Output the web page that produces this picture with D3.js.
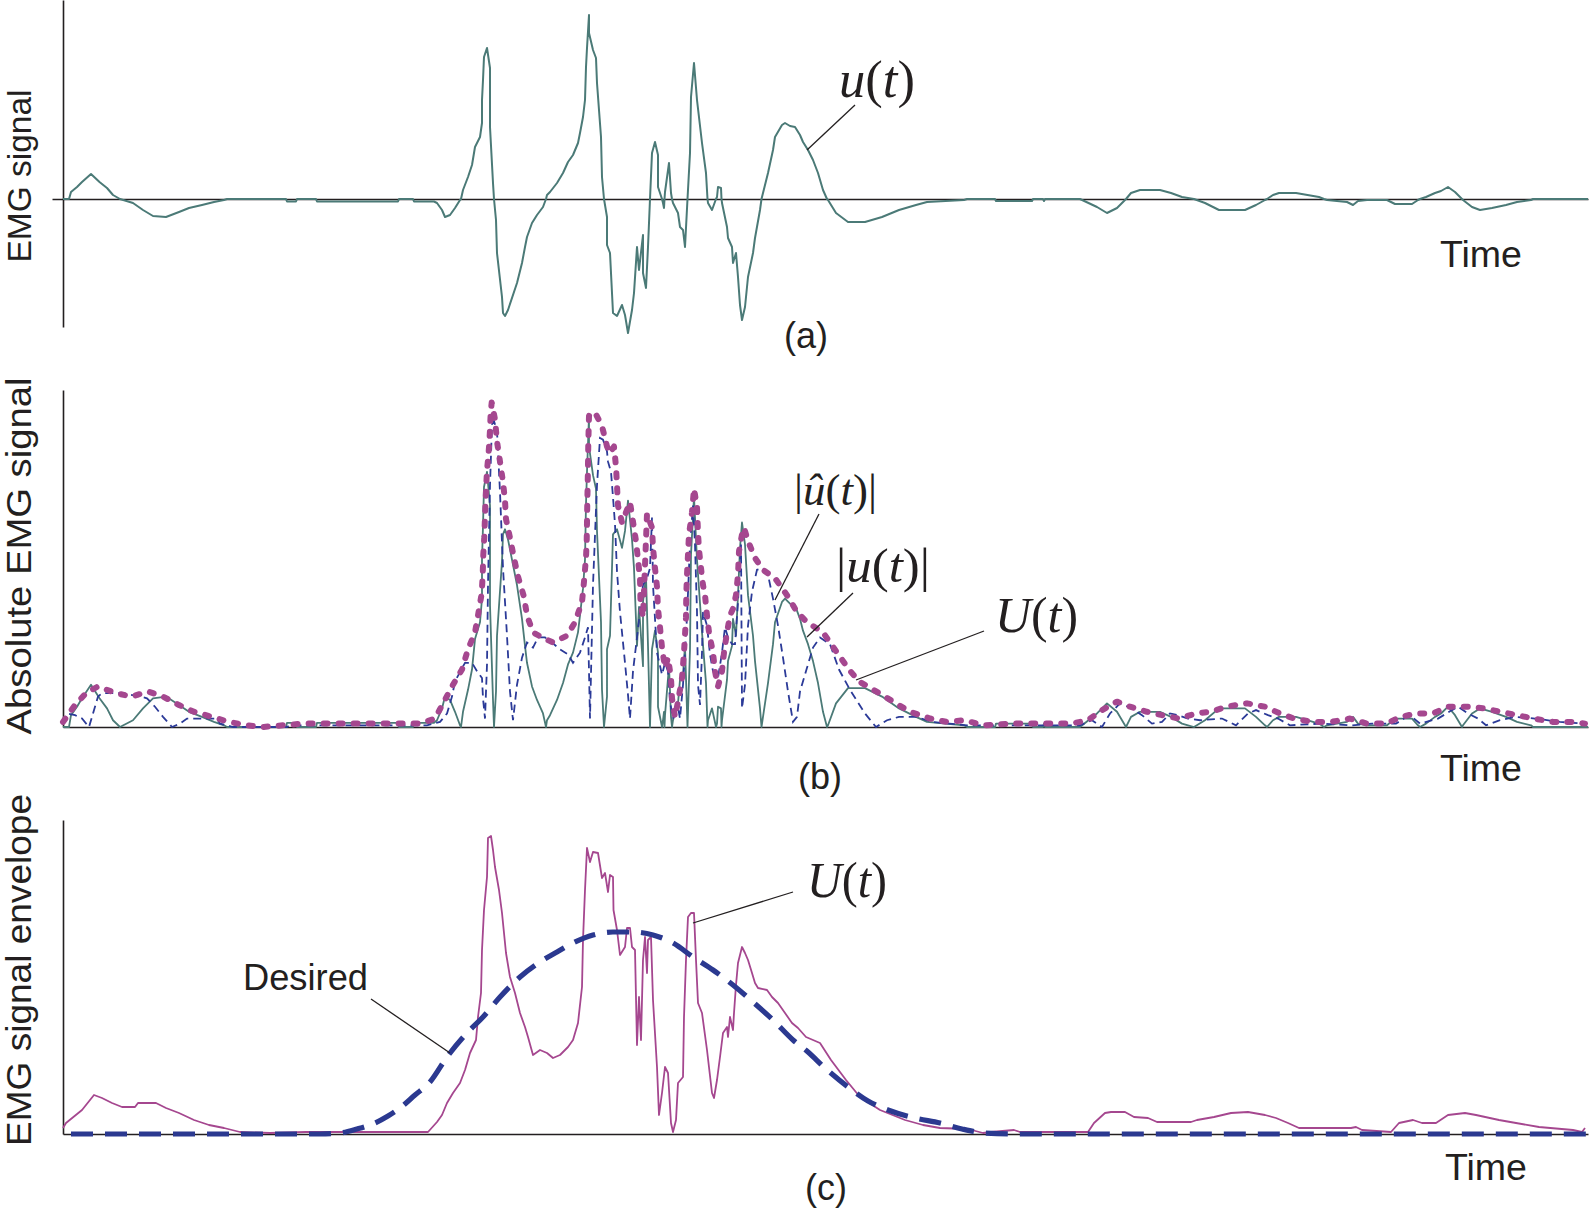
<!DOCTYPE html>
<html><head><meta charset="utf-8">
<script src="https://cdn.jsdelivr.net/npm/d3@7"></script>
<style>body{margin:0;background:#fff}svg{display:block}</style>
</head><body>
<svg id="chart" width="1590" height="1211"></svg>
<script>
// ---- DATA (time in ms, amplitude in arbitrary units) ----
// (a) raw EMG signal u(t): [time, amplitude]
const emgSignal = [
[0,0],[6,0],[8,7],[14,12],[19,17],[28,25],[36.5,17],[44,11],[50,4],[57,0],[70,-4],[80,-11],[90,-17],[103,-18],[116,-13],[126,-9],[139,-6],[151,-3],[161,-1],[164,0],
[223,0],[224,-2.5],[233,-2.5],[234,0],[253,0],[254,-2.5],[335,-2.5],[336,0],[350,0],[351,-2.5],[371,-2.5],
[374,-4],[379,-11],[382,-18],[387,-16],[392,-9],[397,-1],[398,0],[400,9],[405,22],[409,34],[412,52],[417,62],[419,76],[419,99],[420,119],[421,142],[424,151],[427,131],[427,72],[430,16],[431,0],[433,-21],[434,-54],[439,-98],[440,-114],[442,-117],[445,-111],[454,-84],[459,-64],[462,-48],[464,-38],[469,-24],[474,-16],[480,-8],[483,0],[484,4],[487,7],[494,16],[500,26],[505,37],[510,44],[515,56],[517,66],[520,82],[522,99],[523,132],[524,151],[526,184],[526,166],[530,149],[533,141],[534,116],[538,62],[539,22],[541,0],[544,-18],[544,-46],[547,-54],[550,-114],[554,-117],[559,-106],[562,-116],[565,-134],[569,-111],[571,-94],[574,-48],[576,-71],[580,-36],[580,-74],[583,-89],[585,-48],[587,0],[589,46],[592,57],[595,44],[595,12],[599,0],[600,-4],[601,-9],[601.5,0],[602,7],[606,36],[608,6],[609,0],[610,-4],[615,-14],[617,-28],[620,-31],[622,-48],[624.5,0],[627,46],[628,102],[631,136],[634,99],[639,56],[643,26],[644.5,0],[645,-4],[649,-11],[653,0],[654,2],[655,12],[658,11],[658.5,0],[659,-4],[664,-28],[665,-39],[669,-48],[670,-64],[673,-54],[675,-78],[677,-106],[679,-121],[682,-108],[685,-78],[690,-54],[692,-39],[697,-11],[698.5,0],[700,6],[705,26],[710,49],[712,62],[719,74],[722,76],[727,73],[732,72],[737,64],[740,57],[745,49],[750,39],[755,26],[760,9],[764,0],[765,-1],[773,-14],[785,-23],[802,-23],[819,-18],[836,-11],[853,-6],[864,-3],[901,-1],[904,0],
[932,0],[933,-2],[969,-2],[970,0],[980,0],[981,-2],[982,0],
[1017,0],[1034,-8],[1044,-14],[1054,-9],[1063,0],[1068,6],[1077,9],[1097,9],[1108,6],[1119,2],[1125,1],[1131,0],[1142,-4],[1156,-11],[1182,-11],[1193,-6],[1202,-1],[1204,0],[1210,4],[1216,6],[1233,6],[1256,2],[1261,0],[1264,-1],[1284,-3],[1290,-6],[1295,-2],[1304,-1],[1324,-1],[1332,-5],[1349,-5],[1355,-1],[1357,0],[1363,2],[1372,6],[1378,8],[1385,12],[1392,7],[1399,0],[1400,-1],[1409,-8],[1417,-11],[1429,-9],[1443,-6],[1454,-3],[1468,-1],[1470,0],[1525,0]
];
// (b) |û(t)| absolute Hilbert transform
const hilbertAbs = [
[0,2],[4,8],[12,7],[19,5],[26,0],[30,8],[35,18],[39,20],[60,20],[77,18],[84,17],[92,12],[100,6],[109,0],[117,2],[124,5],[154,5],[157,2],[170,0],[224,0],[227,1],[364,1],[377,3],[384,8],[389,18],[392,27],[402,38],[409,38],[414,33],[419,29],[420,17],[422,5],[424,37],[425,84],[427,143],[429,179],[431,181],[434,175],[437,139],[440,94],[444,54],[447,21],[450,4],[454,25],[459,41],[464,50],[470,47],[475,53],[482,53],[489,50],[497,46],[505,43],[510,38],[517,44],[522,53],[525,59],[526,33],[527,5],[530,84],[534,143],[537,171],[540,170],[544,163],[545,157],[548,151],[550,136],[552,120],[554,92],[557,68],[562,38],[565,19],[567,5],[570,33],[574,53],[577,68],[580,84],[584,88],[587,94],[589,124],[590,84],[594,44],[599,31],[602,38],[605,33],[607,15],[610,5],[614,15],[617,5],[620,25],[624,65],[627,108],[630,131],[632,108],[634,68],[635,25],[637,13],[639,44],[640,68],[644,60],[647,43],[650,33],[655,29],[659,44],[662,59],[665,53],[669,49],[672,49],[675,74],[678,108],[679,11],[682,25],[685,60],[689,80],[694,93],[700,94],[705,90],[710,76],[715,60],[720,41],[725,21],[730,3],[734,6],[737,21],[744,35],[750,47],[757,53],[767,49],[776,34],[787,22],[802,8],[813,0],[824,4],[836,6],[853,6],[870,3],[904,1],[937,1],[1017,1],[1029,4],[1039,0],[1047,8],[1057,14],[1069,11],[1079,7],[1089,2],[1099,3],[1107,8],[1115,7],[1125,5],[1137,4],[1159,5],[1173,1],[1185,8],[1193,10],[1205,7],[1215,5],[1227,1],[1257,2],[1289,1],[1309,2],[1333,2],[1341,5],[1347,7],[1357,2],[1375,5],[1389,10],[1395,12],[1405,8],[1415,5],[1423,1],[1437,4],[1452,6],[1472,5],[1497,3],[1522,2]
];
// (b) U(t) envelope
const envelopeB = [
[0,3],[12,13],[23,20],[35,24],[53,20],[69,18],[85,21],[100,18],[116,13],[131,9],[149,6],[166,3],[184,1],[200,0],[220,1],[240,2],[357,2],[372,5],[381,15],[390,25],[399,34],[405,46],[412,56],[415,66],[418.7,79],[419.7,90],[420.3,102],[421.3,112],[422,125],[423,140],[424,152],[425.3,160],[426.3,168],[427,176],[427.7,186],[428.7,192],[432,182],[434,169],[437,157],[440,145],[442,134],[443,123],[447,112],[451,100],[455,89],[461,77],[464,66],[470,56],[479,53],[490,50],[504,54],[512,62],[519,74],[521,86],[523,100],[523.7,110],[524,121],[524.3,133],[524.7,144],[525,155],[525.3,168],[526,184],[527,186],[533,185],[539,178],[544,166],[547,162],[551,166],[553,154],[554,143],[555,131],[559,121],[567,133],[573,110],[577,88],[577.5,74],[580,65],[584,126],[589,118],[590,106],[592,94],[594,83],[595,70],[597,59],[599,47],[602,35],[605,41],[608,29],[609,17],[612,6],[615,15],[619,29],[621,44],[623,65],[623.3,79],[624,90],[625,102],[626,114],[629,127],[631,141],[634,130],[635,115],[636,105],[638,94],[640,84],[642,78],[644,66],[646,56],[650,44],[652,33],[655,24],[659,33],[661,44],[664,56],[667,66],[670,70],[673,78],[675,90],[676,104],[679,114],[681,118],[685,110],[692,100],[700,93],[712,88],[724,78],[734,68],[744,62],[760,56],[774,44],[786,34],[796,27],[819,19],[847,9],[867,5],[884,3],[901,4],[921,1],[949,2],[1008,2],[1025,4],[1039,10],[1054,15],[1067,12],[1084,9],[1099,7],[1116,5],[1133,8],[1148,9],[1163,12],[1184,14],[1202,12],[1217,8],[1231,5],[1249,3],[1268,3],[1287,5],[1304,2],[1323,2],[1338,6],[1353,8],[1370,8],[1385,12],[1404,12],[1422,11],[1437,9],[1454,7],[1471,5],[1490,3],[1509,3],[1522,2]
];
// (c) U(t) envelope
const envelopeC = [
[0,6],[3,11],[19,24],[31,39],[39,36],[49,31],[59,27],[72,27],[75,31],[93,31],[103,26],[116,21],[131,14],[146,9],[161,6],[177,2],[207,1],[243,2],[365,2],[374,12],[379,19],[384,31],[390,41],[397,51],[402,64],[407,81],[413,94],[415,117],[418,141],[419,184],[421,224],[424,257],[425,296],[428,298],[430,284],[432,267],[436,244],[439,221],[443,181],[447,157],[452,141],[457,121],[462,107],[465,97],[470,79],[477,84],[484,81],[490,76],[497,79],[505,87],[510,94],[515,111],[519,147],[520,194],[522,244],[524,286],[527,272],[530,282],[535,281],[539,256],[542,261],[545,242],[547,259],[550,257],[550.5,224],[554,204],[557,179],[562,187],[564,206],[567,206],[569,187],[572,184],[574,89],[576,137],[578,94],[580,174],[582,197],[584,161],[585,194],[588,197],[590,134],[594,67],[596,19],[599,41],[602,67],[605,61],[608,11],[610,2],[613,14],[615,51],[620,57],[621,117],[623,174],[625,217],[628,221],[631,221],[633,174],[635,131],[639,121],[644,84],[649,41],[651,36],[654,54],[657,77],[660,101],[664,107],[665,97],[667,117],[670,104],[671,121],[673,149],[675,171],[679,187],[682,181],[685,174],[689,161],[692,151],[695,146],[704,144],[709,137],[715,131],[722,121],[729,111],[735,106],[743,97],[757,91],[768,74],[783,54],[797,37],[817,24],[842,14],[860,9],[877,6],[905,5],[920,1],[928,2],[951,4],[957,2],[1025,2],[1031,11],[1042,21],[1048,22],[1062,22],[1071,17],[1085,16],[1094,12],[1128,12],[1134,14],[1151,17],[1168,21],[1185,22],[1202,19],[1213,16],[1225,11],[1236,6],[1288,6],[1293,7],[1299,4],[1328,2],[1336,11],[1350,14],[1359,11],[1373,11],[1385,19],[1402,21],[1413,19],[1436,14],[1453,11],[1476,7],[1510,4],[1519,2],[1522,6]
];
// (c) desired envelope
const desiredEnvelope = [
[8,0],[257,0],[277,1],[294,5],[312,11],[325,18],[337,26],[352,39],[367,52],[384,77],[404,101],[420,117],[437,137],[457,157],[477,172],[494,182],[510,191],[530,199],[550,202],[570,202],[590,199],[610,191],[630,177],[650,164],[670,149],[690,132],[710,114],[730,94],[745,82],[762,66],[785,47],[805,33],[825,24],[852,16],[877,11],[899,5],[922,1],[957,0],[1525,0]
];
const panelLabels = ["(a)", "(b)", "(c)"];
const yTitles = ["EMG signal", "Absolute EMG signal", "EMG signal envelope"];
const xTitle = "Time";

// ---- DRAWING ----
const svg = d3.select("#chart");
svg.append("rect").attr("width",1590).attr("height",1211).attr("fill","#fff");

const C = {signal:"#4b7a77", env:"#a5478f", hil:"#2b3a98", des:"#2b3990", ink:"#231f20"};
const x = d3.scaleLinear().domain([0,1525]).range([63,1588]);
const yA = d3.scaleLinear().domain([-128,199]).range([327,0]);
const yB = d3.scaleLinear().domain([0,199.4]).range([727,390]);
const yC = d3.scaleLinear().domain([0,314]).range([1134,820]);

function axes(y, y0, xExt) {
  const gy = svg.append("g").attr("transform", `translate(${x(0)},0)`)
    .call(d3.axisLeft(y).tickValues([]).tickSizeOuter(0));
  const xs = xExt ? x.copy().domain([-11,1525]).range([52,1588]) : x;
  const gx = svg.append("g").attr("transform", `translate(0,${y(y0)})`)
    .call(d3.axisBottom(xs).tickValues([]).tickSizeOuter(0));
  [gy, gx].forEach(g => g.select(".domain").attr("stroke", C.ink).attr("stroke-width", 1.6));
}
axes(yA, 0, true);
axes(yB, 0, false);
axes(yC, 0, false);

const mk = y => d3.line().x(d => x(d[0])).y(d => y(d[1]));

// (a)
svg.append("path").datum(emgSignal).attr("d", mk(yA))
  .attr("fill","none").attr("stroke",C.signal).attr("stroke-width",2).attr("stroke-linejoin","round");

// (b)
const absSignal = emgSignal.map(d => [d[0], Math.abs(d[1])]);
svg.append("path").datum(absSignal).attr("d", mk(yB))
  .attr("fill","none").attr("stroke",C.signal).attr("stroke-width",1.8).attr("stroke-linejoin","round");
svg.append("path").datum(hilbertAbs).attr("d", mk(yB))
  .attr("fill","none").attr("stroke",C.hil).attr("stroke-width",1.8).attr("stroke-dasharray","8,5");
svg.append("path").datum(envelopeB).attr("d", mk(yB))
  .attr("fill","none").attr("stroke",C.env).attr("stroke-width",6)
  .attr("stroke-dasharray","4,11").attr("stroke-linecap","round").attr("stroke-linejoin","round");

// (c)
svg.append("path").datum(envelopeC).attr("d", mk(yC))
  .attr("fill","none").attr("stroke",C.env).attr("stroke-width",1.8).attr("stroke-linejoin","round");
svg.append("path").datum(desiredEnvelope).attr("d", mk(yC).curve(d3.curveMonotoneX))
  .attr("fill","none").attr("stroke",C.des).attr("stroke-width",5.2).attr("stroke-dasharray","22,12");

// ---- TEXT ----
const sans = "'Liberation Sans', Arial, Helvetica, sans-serif";
const serif = "'Liberation Serif', 'Times New Roman', serif";

const yT = [[31,176,34,173],[31,556,34.5,357],[31,970,34.5,352]];
yTitles.forEach((t,i) => {
  const [tx,ty,fs,len] = yT[i];
  svg.append("text").attr("transform",`translate(${tx},${ty}) rotate(-90)`)
    .attr("text-anchor","middle").attr("font-family",sans).attr("font-size",fs)
    .attr("textLength",len).attr("lengthAdjust","spacingAndGlyphs").attr("fill",C.ink).text(t);
});
[[1440,267],[1440,781],[1445,1180]].forEach(([tx,ty]) => {
  svg.append("text").attr("x",tx).attr("y",ty).attr("font-family",sans).attr("font-size",36.5)
    .attr("textLength",82).attr("lengthAdjust","spacingAndGlyphs").attr("fill",C.ink).text(xTitle);
});
[[806,348],[820,789],[826,1200]].forEach(([tx,ty],i) => {
  svg.append("text").attr("x",tx).attr("y",ty).attr("text-anchor","middle")
    .attr("font-family",sans).attr("font-size",36).attr("fill",C.ink).text(panelLabels[i]);
});
svg.append("text").attr("x",243).attr("y",990).attr("font-family",sans).attr("font-size",36)
  .attr("textLength",125).attr("lengthAdjust","spacingAndGlyphs").attr("fill",C.ink).text("Desired");

function mathLabel(parts, tx, ty, fs, len) {
  const t = svg.append("text").attr("x",tx).attr("y",ty).attr("font-family",serif)
    .attr("font-size",fs).attr("fill",C.ink).attr("textLength",len).attr("lengthAdjust","spacingAndGlyphs");
  parts.forEach(([s,it]) => t.append("tspan").attr("font-style", it ? "italic" : "normal").text(s));
}
mathLabel([["u",1],["(",0],["t",1],[")",0]], 839, 97, 52, 76);
mathLabel([["|",0],["\u00fb",1],["(",0],["t",1],[")",0],["|",0]], 794, 505, 45, 83);
mathLabel([["|",0],["u",1],["(",0],["t",1],[")",0],["|",0]], 836, 582, 48, 94);
mathLabel([["U",1],["(",0],["t",1],[")",0]], 995, 632, 50, 83);
mathLabel([["U",1],["(",0],["t",1],[")",0]], 807, 897, 50, 80);

// leader lines
[[855,105,807,150],[819,514,775,600],[853,593,807,637],[984,631,856,680],[371,999,450,1053],[793,892,693,923]]
  .forEach(([x1,y1,x2,y2]) => svg.append("line").attr("x1",x1).attr("y1",y1).attr("x2",x2).attr("y2",y2)
    .attr("stroke",C.ink).attr("stroke-width",1.3));
</script>
</body></html>
